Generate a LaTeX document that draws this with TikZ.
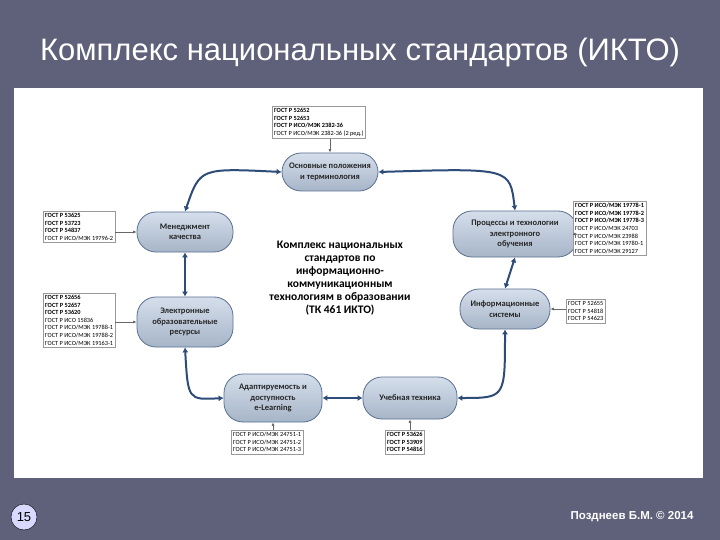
\documentclass[tikz,border=0pt]{standalone}
\usepackage{fontspec}
\setmainfont{Carlito}
\newfontfamily\arialf{Liberation Sans}
\usetikzlibrary{arrows.meta}
\definecolor{bgc}{HTML}{5F6079}
\definecolor{nodef}{HTML}{B9C9DE}
\definecolor{nodeb}{HTML}{5A7090}
\definecolor{arr}{HTML}{2E4C78}
\begin{document}
\begin{tikzpicture}[x=1pt,y=-1pt,
 proc/.style={draw=nodeb,line width=0.8pt,top color=nodef!60,bottom color=nodef!90!black,rounded corners=19pt,align=center,font=\fontsize{8.5}{10.5}\selectfont\bfseries,text=black!85,inner sep=2pt},
 lst/.style={draw=black!40,fill=white,align=left,font=\fontsize{6.3}{7.6}\selectfont,inner sep=2pt,anchor=north west},
 big/.style={draw=arr,line width=2pt,{Latex[length=5pt,width=6pt]}-{Latex[length=5pt,width=6pt]}},
 thin/.style={draw=black!60,line width=0.6pt,-{Latex[length=3.5pt,width=3pt]}}]
\useasboundingbox (0,0) rectangle (720,540);
\fill[bgc] (0,0) rectangle (720,540);
\node[text=white,font=\arialf\fontsize{31}{34}\selectfont] (title) at (360,52) {Комплекс национальных стандартов (ИКТО)};
\fill[white] (14,88) rectangle (703,478);
\node[proc,minimum width=96pt,minimum height=38pt] (top) at (330,172) {Основные положения\\и терминология};
\node[proc,minimum width=96pt,minimum height=40pt] (men) at (185,232) {Менеджмент\\качества};
\node[proc,minimum width=124pt,minimum height=46pt] (pro) at (515,234) {Процессы и технологии\\электронного\\обучения};
\node[proc,minimum width=96pt,minimum height=50pt] (eor) at (185,322) {Электронные\\образовательные\\ресурсы};
\node[proc,minimum width=90pt,minimum height=40pt] (inf) at (505,309) {Информационные\\системы};
\node[proc,minimum width=98pt,minimum height=48pt] (ada) at (273,398) {Адаптируемость и\\доступность\\e-Learning};
\node[proc,minimum width=94pt,minimum height=42pt] (uch) at (410,398) {Учебная техника};
\node[align=center,font=\fontsize{11.5}{13}\selectfont\bfseries] (ctr) at (340,278) {Комплекс национальных\\стандартов по\\информационно-\\коммуникационным\\технологиям в образовании\\(ТК 461 ИКТО)};
\draw[big] (top.west) .. controls (200,168) .. (men.north);
\draw[big] (top.east) .. controls (510,168) .. (pro.north);
\draw[big] (men.south) -- (eor.north);
\draw[big] (pro.south) -- (inf.north);
\draw[big] (eor.south) .. controls (188,400) .. (ada.west);
\draw[big] (inf.south) .. controls (505,398) .. (uch.east);
\draw[big] (ada.east) -- (uch.west);
\node[lst] (l1) at (272,106) {\textbf{ГОСТ Р 52652}\\\textbf{ГОСТ Р 52653}\\\textbf{ГОСТ Р ИСО/МЭК 2382-36}\\ГОСТ Р ИСО/МЭК 2382-36 (2 ред.)};
\node[lst] (l2) at (43,211) {\textbf{ГОСТ Р 53625}\\\textbf{ГОСТ Р 53723}\\\textbf{ГОСТ Р 54837}\\ГОСТ Р ИСО/МЭК 19796-2};
\node[lst] (l3) at (43,293) {\textbf{ГОСТ Р 52656}\\\textbf{ГОСТ Р 52657}\\\textbf{ГОСТ Р 53620}\\ГОСТ Р ИСО 15836\\ГОСТ Р ИСО/МЭК 19788-1\\ГОСТ Р ИСО/МЭК 19788-2\\ГОСТ Р ИСО/МЭК 19163-1};
\node[lst] (l4) at (573,201) {\textbf{ГОСТ Р ИСО/МЭК 19778-1}\\\textbf{ГОСТ Р ИСО/МЭК 19778-2}\\\textbf{ГОСТ Р ИСО/МЭК 19778-3}\\ГОСТ Р ИСО/МЭК 24703\\ГОСТ Р ИСО/МЭК 23988\\ГОСТ Р ИСО/МЭК 19780-1\\ГОСТ Р ИСО/МЭК 29127};
\node[lst] (l5) at (566,299) {ГОСТ Р 52655\\ГОСТ Р 54818\\ГОСТ Р 54623};
\node[lst] (l6) at (231,430) {ГОСТ Р ИСО/МЭК 24751-1\\ГОСТ Р ИСО/МЭК 24751-2\\ГОСТ Р ИСО/МЭК 24751-3};
\node[lst] (l7) at (385,430) {\textbf{ГОСТ Р 53626}\\\textbf{ГОСТ Р 53909}\\\textbf{ГОСТ Р 54816}};
\draw[thin] (top.north |- l1.south) -- (top.north);
\draw[thin] (l2.east |- men.west) -- (men.west);
\draw[thin] (l3.east |- eor.west) -- (eor.west);
\draw[thin] (l4.west |- pro.east) -- (pro.east);
\draw[thin] (l5.west |- inf.east) -- (inf.east);
\draw[thin] (ada.south |- l6.north) -- (ada.south);
\draw[thin] (uch.south |- l7.north) -- (uch.south);
\node[circle,draw=black,fill=blue!15,inner sep=1pt,minimum width=22pt,minimum height=26pt,font=\arialf\fontsize{13}{14}\selectfont] (pg) at (24,517) {15};
\node[text=white,font=\arialf\bfseries\fontsize{11.5}{12}\selectfont,anchor=east] (auth) at (697,517) {Позднеев Б.М. © 2014};
\end{tikzpicture}
\end{document}
